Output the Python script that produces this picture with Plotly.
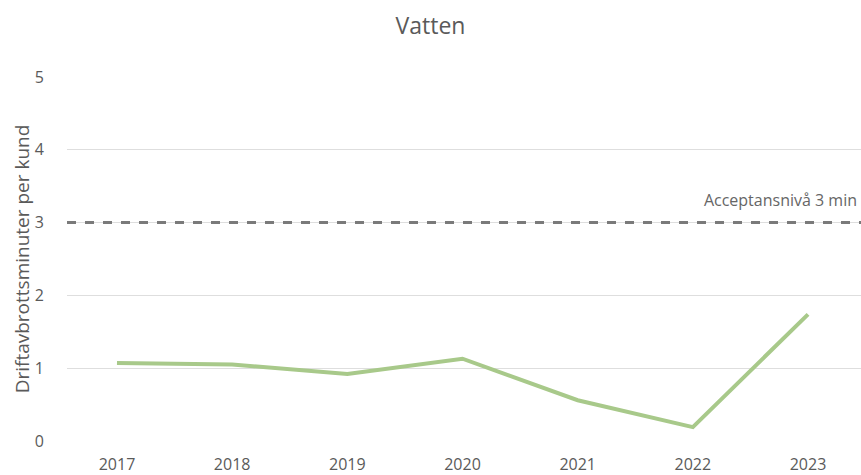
import plotly.graph_objects as go

years = ["2017", "2018", "2019", "2020", "2021", "2022", "2023"]
values = [1.07, 1.05, 0.92, 1.13, 0.56, 0.19, 1.74]
threshold = 3
threshold_label = "Acceptansnivå 3 min"
y_ticks = [0, 1, 2, 3, 4, 5]

font_family = "Open Sans, sans-serif"
text_color = "#5a5a5a"

fig = go.Figure()
fig.add_trace(go.Scatter(
    x=years, y=values, mode="lines",
    line=dict(color="#a8c98a", width=4),
    showlegend=False, hoverinfo="x+y",
))
fig.add_shape(type="line", xref="paper", yref="y", x0=0, x1=1, y0=threshold, y1=threshold,
              line=dict(color="#7a7a7a", width=3, dash="dash"), layer="above")
fig.add_annotation(xref="paper", yref="y", x=0.997, y=threshold, xanchor="right", yanchor="bottom",
                   yshift=10, text=threshold_label, showarrow=False, width=240, align="right",
                   font=dict(family=font_family, size=16, color="#666666"))

fig.update_layout(
    width=861, height=475,
    margin=dict(l=67, r=0, t=77, b=34),
    paper_bgcolor="white", plot_bgcolor="white",
    title=dict(text="Vatten", x=0.5, xanchor="center", yref="container", y=0.945, yanchor="middle",
               font=dict(family=font_family, size=23, color=text_color)),
    font=dict(family=font_family, color=text_color),
    xaxis=dict(type="category", range=[-0.434, 6.46], showgrid=False, zeroline=False,
               showline=False, ticks="", ticklabelstandoff=12, automargin=False,
               tickfont=dict(size=16, color=text_color)),
    yaxis=dict(range=[0, 5], tickvals=y_ticks, showgrid=True, gridcolor="#dedede",
               gridwidth=1, zeroline=False, showline=False, ticks="",
               ticklabelstandoff=22, automargin=False,
               tickfont=dict(size=16, color=text_color),
               title=dict(text="Driftavbrottsminuter per kund", standoff=0,
                          font=dict(size=19, color=text_color))),
)

fig.write_html("out.html", config={"displayModeBar": False},
               post_script="document.body.style.margin='0';document.body.style.padding='0';")
